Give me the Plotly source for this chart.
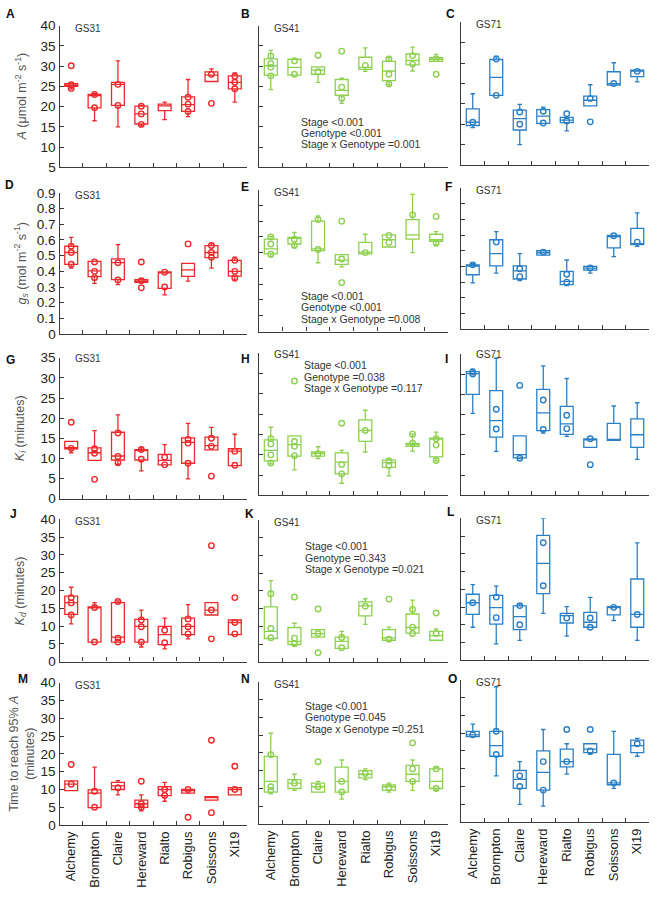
import plotly.graph_objects as go

genotypes = ["Alchemy", "Brompton", "Claire", "Hereward", "Rialto", "Robigus", "Soissons", "Xi19"]
stages = ["GS31", "GS41", "GS71"]

# box stats per genotype: (lower whisker, q1, median, q3, upper whisker)
A_box = [(24.4, 25.0, 25.3, 25.7, 25.7), (16.5, 19.7, 22.7, 23.0, 23.2), (15.0, 20.3, 25.5, 26.0, 31.3),
         (15.2, 15.7, 18.2, 20.1, 20.3), (16.8, 19.0, 20.2, 20.6, 21.1), (17.5, 18.8, 20.5, 22.4, 26.7),
         (26.2, 26.2, 27.8, 28.6, 29.3), (21.1, 24.4, 26.0, 27.6, 28.3)]
A_pts = [[30.1, 25.4, 24.5], [23.0, 19.7], [25.5, 20.3], [20.1, 18.2, 15.6], [], [22.3, 20.6, 18.8],
         [28.0, 20.8], [27.5, 26.0, 24.4]]
B_box = [(24.2, 27.8, 30.1, 31.8, 33.9), (27.8, 27.8, 29.7, 31.7, 31.9), (26.0, 28.0, 29.0, 29.8, 29.8),
         (20.8, 22.8, 24.0, 26.7, 27.0), (28.7, 29.2, 29.7, 32.2, 34.5), (25.4, 26.4, 28.8, 31.2, 32.1),
         (28.8, 30.3, 31.4, 33.0, 34.7), (31.2, 31.2, 31.7, 32.1, 32.9)]
B_pts = [[32.5, 30.6, 29.7, 27.6], [31.3, 28.0], [32.7, 28.6], [33.7, 24.8, 22.0], [30.2], [31.8, 28.0, 25.6],
         [32.6, 30.5], [31.8, 28.0]]
C_box = [(14.2, 14.7, 15.5, 18.8, 22.5), (22.1, 22.1, 26.5, 30.9, 31.7), (10.0, 13.6, 16.4, 18.5, 19.9),
         (15.2, 15.2, 17.0, 18.6, 19.2), (13.4, 15.4, 16.0, 16.7, 16.7), (19.5, 19.5, 20.9, 21.9, 24.7),
         (24.6, 24.6, 25.0, 27.9, 30.1), (25.4, 26.7, 28.1, 28.3, 28.3)]
C_pts = [[15.5], [31.0, 22.1], [18.0, 15.0], [18.2, 15.3], [17.6, 15.8], [21.3, 15.6], [25.0], [28.0]]

D_box = [(0.42, 0.445, 0.52, 0.56, 0.616), (0.324, 0.366, 0.403, 0.464, 0.464), (0.315, 0.347, 0.455, 0.48, 0.57),
         (0.33, 0.33, 0.338, 0.347, 0.347), (0.25, 0.292, 0.395, 0.397, 0.397), (0.338, 0.368, 0.41, 0.451, 0.451),
         (0.42, 0.487, 0.52, 0.564, 0.576), (0.34, 0.37, 0.40, 0.47, 0.49)]
D_pts = [[0.56, 0.52, 0.445], [0.46, 0.40, 0.36], [0.455, 0.345], [0.46, 0.34, 0.295], [0.395, 0.30],
         [0.575], [0.565, 0.52, 0.49], [0.47, 0.40, 0.36]]
E_box = [(0.474, 0.493, 0.524, 0.586, 0.603), (0.534, 0.555, 0.597, 0.597, 0.628), (0.436, 0.513, 0.524, 0.70, 0.733),
         (0.41, 0.426, 0.453, 0.488, 0.488), (0.493, 0.493, 0.503, 0.565, 0.617), (0.536, 0.536, 0.582, 0.613, 0.613),
         (0.50, 0.586, 0.613, 0.71, 0.87), (0.55, 0.572, 0.582, 0.617, 0.634)]
E_pts = [[0.60, 0.555, 0.49], [0.585, 0.545], [0.71, 0.52], [0.70, 0.46, 0.31], [0.50], [0.61, 0.565],
         [0.74], [0.73, 0.56]]
F_box = [(0.295, 0.347, 0.409, 0.409, 0.418), (0.357, 0.403, 0.482, 0.57, 0.622), (0.31, 0.32, 0.372, 0.403, 0.482),
         (0.472, 0.472, 0.487, 0.50, 0.50), (0.278, 0.284, 0.305, 0.368, 0.441), (0.357, 0.376, 0.389, 0.40, 0.40),
         (0.462, 0.518, 0.597, 0.597, 0.597), (0.528, 0.539, 0.543, 0.643, 0.741)]
F_pts = [[0.41], [0.555], [0.385, 0.335], [0.49], [0.35, 0.30], [0.39], [0.595], [0.555]]

G_box = [(11.4, 12.4, 12.6, 14.25, 14.25), (9.5, 9.5, 11.4, 12.6, 16.9), (8.55, 9.6, 10.6, 16.5, 20.8),
         (6.9, 9.6, 12.2, 12.2, 12.6), (8.4, 8.4, 9.5, 11.0, 13.4), (4.9, 8.8, 14.0, 15.1, 18.7),
         (12.1, 12.1, 13.2, 15.3, 17.7), (8.2, 8.2, 11.8, 12.4, 16.0)]
G_pts = [[19.0, 12.5], [12.4, 11.3, 4.8], [16.3, 10.5, 8.9], [12.2, 9.8], [10.3, 8.4], [14.7, 13.8, 8.8],
         [15.0, 13.0, 5.6], [11.8, 8.3]]
H_box = [(7.8, 8.5, 11.1, 13.7, 16.8), (6.3, 9.7, 12.5, 14.7, 14.7), (9.1, 9.7, 10.3, 10.7, 12.0),
         (3.0, 5.3, 8.2, 10.5, 11.1), (10.7, 13.3, 16.0, 18.6, 21.0), (4.8, 6.9, 8.1, 8.7, 9.1),
         (10.9, 12.1, 12.5, 12.8, 15.1), (8.5, 9.5, 13.9, 14.1, 15.6)]
H_pts = [[14.0, 12.7, 10.0, 8.0], [28.2, 13.3, 12.1, 9.8], [10.3], [17.8, 7.6, 5.3], [16.0], [8.5, 7.4],
         [15.1, 12.9], [14.0, 12.4, 8.6]]
I_box = [(20.3, 25.0, 30.1, 30.6, 31.2), (10.9, 14.4, 18.5, 25.9, 33.9), (9.1, 9.3, 10.1, 14.7, 14.7),
         (15.4, 16.0, 20.4, 26.2, 32.0), (14.6, 15.1, 17.7, 22.0, 28.9), (11.9, 11.9, 14.0, 14.0, 14.0),
         (13.6, 13.6, 13.8, 17.8, 22.1), (8.9, 11.9, 15.0, 18.9, 22.9)]
I_pts = [[30.5, 30.0], [21.3, 16.4], [27.2, 9.2], [23.6, 16.3], [19.8, 16.5], [14.0, 7.6], [], []]

J_box = [(10.6, 13.3, 16.6, 18.4, 20.9), (5.5, 5.5, 15.2, 15.4, 16.6), (5.5, 5.5, 6.9, 16.6, 17.1),
         (4.1, 5.5, 9.9, 11.9, 14.5), (3.6, 4.8, 7.6, 9.9, 12.2), (6.4, 7.6, 9.9, 12.2, 16.0),
         (13.1, 13.1, 14.5, 16.6, 16.6), (7.6, 7.6, 11.0, 11.7, 11.7)]
J_pts = [[18.0, 16.5, 13.1], [15.2, 5.5], [16.9, 6.6, 5.5], [11.7, 9.8, 5.5], [8.8, 5.3], [12.0, 9.8, 7.8],
         [32.6, 14.5, 6.4], [18.0, 11.0, 7.8]]
K_box = [(6.6, 6.6, 8.6, 15.5, 22.9), (4.5, 4.9, 5.8, 9.7, 10.9), (7.0, 7.0, 8.0, 9.1, 9.1),
         (3.8, 3.8, 5.8, 7.0, 8.6), (10.6, 13.0, 15.8, 16.9, 17.8), (6.1, 6.1, 6.8, 9.1, 9.8),
         (8.1, 8.1, 9.7, 13.5, 17.4), (6.1, 6.1, 7.4, 8.6, 9.3)]
K_pts = [[19.2, 9.4, 6.8], [18.3, 6.7, 5.1], [14.9, 8.0, 2.6], [6.9, 4.0], [15.7], [17.7, 6.4],
         [14.8, 9.8, 8.0], [13.8, 8.0]]
L_box = [(9.3, 12.9, 16.2, 18.6, 21.3), (4.6, 10.2, 14.8, 18.3, 20.9), (5.6, 8.6, 12.3, 15.3, 15.8),
         (13.2, 18.8, 27.3, 35.2, 40.0), (6.8, 10.5, 12.6, 13.2, 15.1), (9.3, 9.3, 10.7, 13.5, 17.7),
         (11.2, 12.8, 14.9, 15.1, 15.1), (5.6, 9.3, 12.9, 22.9, 33.1)]
L_pts = [[16.2], [17.8, 12.0], [15.4, 10.0], [33.1, 21.0], [11.9], [11.9, 9.3], [14.9], [12.9]]

M_box = [(9.7, 9.7, 11.5, 12.4, 12.4), (4.9, 4.9, 9.0, 9.9, 16.3), (8.5, 10.0, 11.0, 12.0, 12.5),
         (4.0, 5.0, 6.0, 7.0, 8.5), (6.7, 8.3, 10.0, 10.8, 12.0), (9.0, 9.0, 9.8, 10.0, 10.0),
         (7.0, 7.0, 7.7, 8.0, 8.0), (8.5, 8.5, 10.0, 10.5, 10.5)]
M_pts = [[17.0, 11.5], [9.5, 5.0], [10.5], [12.3, 6.0, 5.0], [10.0, 8.3], [10.0, 2.2], [23.8, 3.5],
         [16.5, 10.0]]
N_box = [(8.5, 9.0, 12.0, 19.0, 25.5), (9.5, 10.0, 11.5, 12.5, 14.0), (9.0, 9.0, 10.5, 11.5, 12.0),
         (7.0, 9.0, 12.0, 16.0, 18.0), (12.5, 13.0, 14.0, 15.0, 15.5), (9.0, 9.5, 10.5, 11.0, 11.5),
         (9.5, 12.0, 14.0, 16.5, 18.0), (9.5, 10.0, 12.0, 15.5, 16.0)]
N_pts = [[19.5, 10.5, 9.5], [11.5], [17.5, 10.5], [12.0, 9.0], [14.2], [10.3], [22.8, 15.5, 12.0],
         [15.5, 10.0]]
O_box = [(24.0, 24.0, 24.5, 25.5, 27.5), (13.0, 18.5, 21.5, 25.5, 38.0), (5.0, 9.5, 12.0, 14.5, 17.0),
         (4.5, 9.0, 14.0, 20.0, 26.0), (13.5, 15.5, 17.0, 20.5, 22.0), (19.0, 19.5, 20.5, 22.0, 22.0),
         (9.5, 10.5, 11.0, 19.0, 25.5), (18.5, 19.5, 21.5, 23.0, 23.5)]
O_pts = [[24.5], [25.5, 19.0], [13.0, 10.0], [17.0, 9.0], [26.0, 17.0], [26.0, 20.0], [11.0], [22.0]]

y_ranges = [(5, 40), (0, 0.9), (0, 35), (0, 40), (0, 40)]
y_dticks = [5, 0.1, 5, 5, 5]

stats_B = ["Stage <0.001", "Genotype <0.001", "Stage x Genotype =0.001"]
stats_E = ["Stage <0.001", "Genotype <0.001", "Stage x Genotype =0.008"]
stats_H = ["Stage <0.001", "Genotype =0.038", "Stage x Genotype =0.117"]
stats_K = ["Stage <0.001", "Genotype =0.343", "Stage x Genotype =0.021"]
stats_N = ["Stage <0.001", "Genotype =0.045", "Stage x Genotype =0.251"]

y_titles = ["<i>A</i> (μmol m<sup>-2</sup> s<sup>-1</sup>)",
            "<i>g<sub>s</sub></i> (mol m<sup>-2</sup> s<sup>-1</sup>)",
            "<i>K<sub>i</sub></i> (minutes)",
            "<i>K<sub>d</sub></i> (minutes)",
            "Time to reach 95% <i>A</i><br>(minutes)"]
letters = ["A", "B", "C", "D", "E", "F", "G", "H", "I", "J", "K", "L", "M", "N", "O"]

panels_box = [[A_box, B_box, C_box], [D_box, E_box, F_box], [G_box, H_box, I_box],
              [J_box, K_box, L_box], [M_box, N_box, O_box]]
panels_pts = [[A_pts, B_pts, C_pts], [D_pts, E_pts, F_pts], [G_pts, H_pts, I_pts],
              [J_pts, K_pts, L_pts], [M_pts, N_pts, O_pts]]
panel_stats = {(0, 1): stats_B, (1, 1): stats_E, (2, 1): stats_H, (3, 1): stats_K, (4, 1): stats_N}

colors = ["#ec2a2d", "#8ed04f", "#2b80c5"]

# ---- layout geometry (pixels) ----
W, H = 666, 900
COLX = [(59.5, 246.5), (259, 448), (461, 649)]
ROWY = [[(19, 163), (19, 163), (15.7, 160.7)],
        [(189, 332.7), (185.7, 330), (184, 327.7)],
        [(356.7, 500), (352.3, 496.7), (352.7, 496.7)],
        [(521, 665.7), (521.7, 666), (520, 664.3)],
        [(687, 832), (686, 831), (684, 829)]]
LETTER_POS = [[(10, 7), (245, 7), (450, 7)],
              [(9, 181), (245, 183), (448, 183)],
              [(10, 359), (245, 358), (446, 358)],
              [(13, 516), (250, 516), (450, 514)],
              [(23, 683), (245, 683), (452, 683)]]

AX = "#3a3a3a"
FONT = "Liberation Sans, Arial, sans-serif"

fig = go.Figure()
annotations = []
layout = dict(width=W, height=H, margin=dict(l=0, r=0, t=0, b=0), showlegend=False,
              plot_bgcolor="white", paper_bgcolor="white", font=dict(family=FONT, color="#222"))


def px(x):
    return x / W


def py(y):
    return 1 - y / H


for r in range(5):
    for c in range(3):
        p = r * 3 + c + 1
        xs = "" if p == 1 else str(p)
        col = colors[c]
        box = panels_box[r][c]
        pts = panels_pts[r][c]
        fig.add_trace(go.Box(
            x=genotypes,
            lowerfence=[b[0] for b in box], q1=[b[1] for b in box], median=[b[2] for b in box],
            q3=[b[3] for b in box], upperfence=[b[4] for b in box],
            width=0.55, whiskerwidth=0.35, fillcolor="rgba(0,0,0,0)",
            line=dict(color=col, width=1.3), boxpoints=False,
            xaxis="x" + xs, yaxis="y" + xs, hoverinfo="skip"))
        px_x, px_y = [], []
        for g, vals in zip(genotypes, pts):
            for v in vals:
                px_x.append(g)
                px_y.append(v)
        fig.add_trace(go.Scatter(
            x=px_x, y=px_y, mode="markers",
            marker=dict(symbol="circle-open", size=5.5, color=col, line=dict(width=1.4, color=col)),
            xaxis="x" + xs, yaxis="y" + xs, hoverinfo="skip"))

        x0, x1 = COLX[c]
        y0, y1 = ROWY[r][c]
        layout["xaxis" + xs] = dict(
            domain=[px(x0), px(x1)], anchor="y" + xs, type="category",
            categoryorder="array", categoryarray=genotypes, range=[-0.5, 7.5],
            tickson="boundaries", ticks="inside", ticklen=4, tickcolor=AX, tickwidth=1.2,
            showline=True, linecolor=AX, linewidth=1.3, showgrid=False, zeroline=False,
            showticklabels=(r == 4), tickangle=-90,
            tickfont=dict(size=13, color="#222", family=FONT))
        lo, hi = y_ranges[r]
        layout["yaxis" + xs] = dict(
            domain=[py(y1), py(y0)], anchor="x" + xs, range=[lo, hi],
            tick0=0, dtick=y_dticks[r], ticks="inside", ticklen=4, tickcolor=AX, tickwidth=1.2,
            showline=True, linecolor=AX, linewidth=1.3, showgrid=False, zeroline=False,
            showticklabels=(c == 0), tickfont=dict(size=13.5, color="#222", family=FONT))

        # panel letter
        lx, ly = LETTER_POS[r][c]
        annotations.append(dict(text="<b>" + letters[p - 1] + "</b>", x=px(lx), y=py(ly),
                                xref="paper", yref="paper", showarrow=False,
                                xanchor="center", yanchor="middle",
                                font=dict(size=12, color="#111", family=FONT)))
        # stage label
        gy = y0 + 2.5 if r != 2 else y0 + 1
        annotations.append(dict(text=stages[c], x=px(x0 + 13), y=py(gy), xref="paper", yref="paper",
                                showarrow=False, xanchor="left", yanchor="middle",
                                font=dict(size=10, color="#333", family=FONT)))
        # stats text
        if (r, c) in panel_stats:
            lines = panel_stats[(r, c)]
            sy = {0: 117, 1: 294, 2: 364.5, 3: 548.5, 4: 711}[r]
            sx = {0: 299, 1: 299, 2: 302, 3: 303, 4: 303}[r]
            for i, t in enumerate(lines):
                annotations.append(dict(text=t, x=px(sx), y=py(sy + i * 11.4), xref="paper", yref="paper",
                                        showarrow=False, xanchor="left", yanchor="middle",
                                        font=dict(size=10.5, color="#333", family=FONT)))
    # y title
    y0, y1 = ROWY[r][0]
    annotations.append(dict(text=y_titles[r], x=px(21 if r < 4 else 22), y=py((y0 + y1) / 2),
                            xref="paper", yref="paper", showarrow=False, textangle=-90,
                            xanchor="center", yanchor="middle",
                            font=dict(size=12.5, color="#555", family=FONT)))

layout["annotations"] = annotations
fig.update_layout(**layout)
fig.write_html("out.html", config={"displayModeBar": False},
               post_script="document.body.style.margin='0';document.body.style.overflow='hidden';")
